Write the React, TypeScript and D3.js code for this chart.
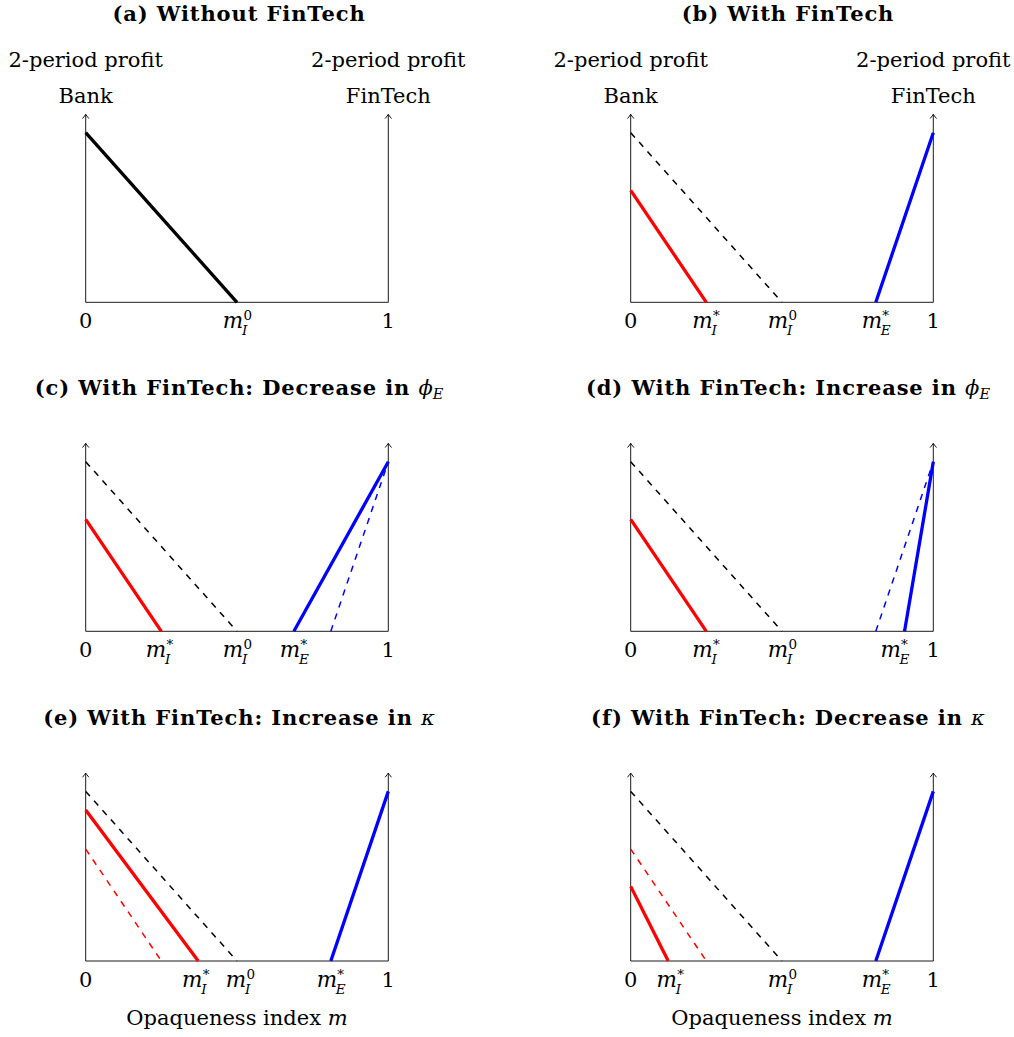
import React from "react";
import * as d3 from "d3";

// ---- data (profit lines on opaqueness index m in [0,1]) ----
const bankMonopoly = [{ m: 0, p: 1 }, { m: 0.5, p: 0 }];
const bankCompetition = [{ m: 0, p: 0.66 }, { m: 0.25, p: 0 }];
const bankHighKappa = [{ m: 0, p: 0.89 }, { m: 0.372, p: 0 }];
const bankLowKappa = [{ m: 0, p: 0.44 }, { m: 0.124, p: 0 }];
const fintechBase = [{ m: 0.81, p: 0 }, { m: 1, p: 1 }];
const fintechLowPhi = [{ m: 0.688, p: 0 }, { m: 1, p: 1 }];
const fintechHighPhi = [{ m: 0.905, p: 0 }, { m: 1, p: 1 }];

const panelTitles = [
  "(a) Without FinTech",
  "(b) With FinTech",
  "(c) With FinTech: Decrease in ",
  "(d) With FinTech: Increase in ",
  "(e) With FinTech: Increase in ",
  "(f) With FinTech: Decrease in ",
];
const titleMath = [null, null, "phiE", "phiE", "kappa", "kappa"];

// tick labels: v = position, t = plain text, or math m with sub/sup
const ticksA = [{ v: 0, t: "0" }, { v: 0.5, sub: "I", sup: "0" }, { v: 1, t: "1" }];
const ticksB = [
  { v: 0, t: "0" }, { v: 0.25, sub: "I", sup: "*" }, { v: 0.5, sub: "I", sup: "0" },
  { v: 0.81, sub: "E", sup: "*" }, { v: 1, t: "1" },
];
const ticksC = [
  { v: 0, t: "0" }, { v: 0.245, sub: "I", sup: "*" }, { v: 0.5, sub: "I", sup: "0" },
  { v: 0.688, sub: "E", sup: "*" }, { v: 1, t: "1" },
];
const ticksD = [
  { v: 0, t: "0" }, { v: 0.25, sub: "I", sup: "*" }, { v: 0.5, sub: "I", sup: "0" },
  { v: 0.872, sub: "E", sup: "*" }, { v: 1, t: "1" },
];
const ticksE = [
  { v: 0, t: "0" }, { v: 0.365, sub: "I", sup: "*" }, { v: 0.51, sub: "I", sup: "0" },
  { v: 0.81, sub: "E", sup: "*" }, { v: 1, t: "1" },
];
const ticksF = [
  { v: 0, t: "0" }, { v: 0.132, sub: "I", sup: "*" }, { v: 0.5, sub: "I", sup: "0" },
  { v: 0.81, sub: "E", sup: "*" }, { v: 1, t: "1" },
];

type Pt = { m: number; p: number };
type LineSpec = { data: Pt[]; color: string; dashed: boolean };

const panels: { lines: LineSpec[]; ticks: any[] }[] = [
  { lines: [{ data: bankMonopoly, color: "#000", dashed: false }], ticks: ticksA },
  {
    lines: [
      { data: bankMonopoly, color: "#000", dashed: true },
      { data: bankCompetition, color: "#ff0000", dashed: false },
      { data: fintechBase, color: "#0000ff", dashed: false },
    ],
    ticks: ticksB,
  },
  {
    lines: [
      { data: bankMonopoly, color: "#000", dashed: true },
      { data: bankCompetition, color: "#ff0000", dashed: false },
      { data: fintechBase, color: "#0000ff", dashed: true },
      { data: fintechLowPhi, color: "#0000ff", dashed: false },
    ],
    ticks: ticksC,
  },
  {
    lines: [
      { data: bankMonopoly, color: "#000", dashed: true },
      { data: bankCompetition, color: "#ff0000", dashed: false },
      { data: fintechBase, color: "#0000ff", dashed: true },
      { data: fintechHighPhi, color: "#0000ff", dashed: false },
    ],
    ticks: ticksD,
  },
  {
    lines: [
      { data: bankMonopoly, color: "#000", dashed: true },
      { data: bankCompetition, color: "#ff0000", dashed: true },
      { data: bankHighKappa, color: "#ff0000", dashed: false },
      { data: fintechBase, color: "#0000ff", dashed: false },
    ],
    ticks: ticksE,
  },
  {
    lines: [
      { data: bankMonopoly, color: "#000", dashed: true },
      { data: bankCompetition, color: "#ff0000", dashed: true },
      { data: bankLowKappa, color: "#ff0000", dashed: false },
      { data: fintechBase, color: "#0000ff", dashed: false },
    ],
    ticks: ticksF,
  },
];

// ---- layout ----
const W = 1014;
const H = 1037;
const colX = [[85.7, 388.3], [630.7, 933.3]];
const rowBottom = [302.3, 631.3, 961];
const rowTitleY = [21, 395, 725];
const titleCx = [239, 788];
const plotH = 169.6;
const SERIF = "'DejaVu Serif', serif";
const FS = 21;

function MathM({ x, y, sub, sup, fs }: any) {
  const mW = fs * 0.94;
  const sfs = 13.5;
  const total = mW + sfs * 0.6;
  const left = x - total / 2;
  return (
    <g fontFamily={SERIF}>
      <text x={left} y={y} fontSize={fs} fontStyle="italic">m</text>
      <text x={left + mW + 0.5} y={y - 8} fontSize={sfs}>{sup}</text>
      <text x={left + mW - 1} y={y + 7} fontSize={sfs} fontStyle="italic">{sub}</text>
    </g>
  );
}

function Panel({ idx }: { idx: number }) {
  const col = idx % 2;
  const row = Math.floor(idx / 2);
  const [x0, x1] = colX[col];
  const yb = rowBottom[row];
  const x = d3.scaleLinear().domain([0, 1]).range([x0, x1]);
  const y = d3.scaleLinear().domain([0, 1]).range([yb, yb - plotH]);
  const line = d3.line<Pt>().x((d) => x(d.m)).y((d) => y(d.p));
  const topV = 1.108;
  const spec = panels[idx];
  const arrow = (ax: number) => {
    const ty = y(topV);
    return (
      <g key={"ax" + ax}>
        <line x1={ax} x2={ax} y1={yb} y2={ty} stroke="#000" strokeWidth={0.9} />
        <path d={`M${ax - 3.2},${ty + 4.2} Q${ax - 0.8},${ty + 1.2} ${ax},${ty} Q${ax + 0.8},${ty + 1.2} ${ax + 3.2},${ty + 4.2}`}
          fill="none" stroke="#000" strokeWidth={0.9} />
      </g>
    );
  };
  const math = titleMath[idx];
  return (
    <g>
      <text x={titleCx[col]} y={rowTitleY[row]} textAnchor="middle" fontFamily={SERIF} fontWeight="bold"
        fontSize={21} letterSpacing={0.9}>
        {panelTitles[idx]}
        {math === "phiE" && (
          <>
            <tspan fontWeight="normal" fontStyle="italic" letterSpacing={0}>ϕ</tspan>
            <tspan fontWeight="normal" fontStyle="italic" fontSize={14.5} dy={4} letterSpacing={0}>E</tspan>
          </>
        )}
        {math === "kappa" && <tspan fontWeight="normal" fontStyle="italic" letterSpacing={0}>κ</tspan>}
      </text>
      {row === 0 && (
        <g fontFamily={SERIF} fontSize={FS} textAnchor="middle">
          <text x={x0} y={67}>2-period profit</text>
          <text x={x1} y={67}>2-period profit</text>
          <text x={x0} y={103}>Bank</text>
          <text x={x1} y={103}>FinTech</text>
        </g>
      )}
      {arrow(x0)}
      {arrow(x1)}
      <line x1={x0} x2={x1} y1={yb} y2={yb} stroke="#000" strokeWidth={0.9} />
      {spec.lines.map((l, i) => (
        <path key={i} d={line(l.data) || ""} fill="none" stroke={l.color}
          strokeWidth={l.dashed ? 1.5 : 3.3} strokeDasharray={l.dashed ? "6.3,6.3" : undefined} />
      ))}
      {spec.ticks.map((t: any, i: number) =>
        t.t !== undefined ? (
          <text key={i} x={x(t.v)} y={yb + 26} textAnchor="middle" fontFamily={SERIF} fontSize={FS}>{t.t}</text>
        ) : (
          <MathM key={i} x={x(t.v)} y={yb + 26} sub={t.sub} sup={t.sup} fs={21.5} />
        )
      )}
      {row === 2 && (
        <text x={(x0 + x1) / 2} y={1025} textAnchor="middle" fontFamily={SERIF} fontSize={FS}>
          Opaqueness index <tspan fontStyle="italic">m</tspan>
        </text>
      )}
    </g>
  );
}

export default function App() {
  return (
    <svg width={W} height={H} style={{ position: "absolute", left: 0, top: 0, background: "#fff" }}>
      <rect width={W} height={H} fill="#fff" />
      {panels.map((_, i) => (
        <Panel key={i} idx={i} />
      ))}
    </svg>
  );
}
